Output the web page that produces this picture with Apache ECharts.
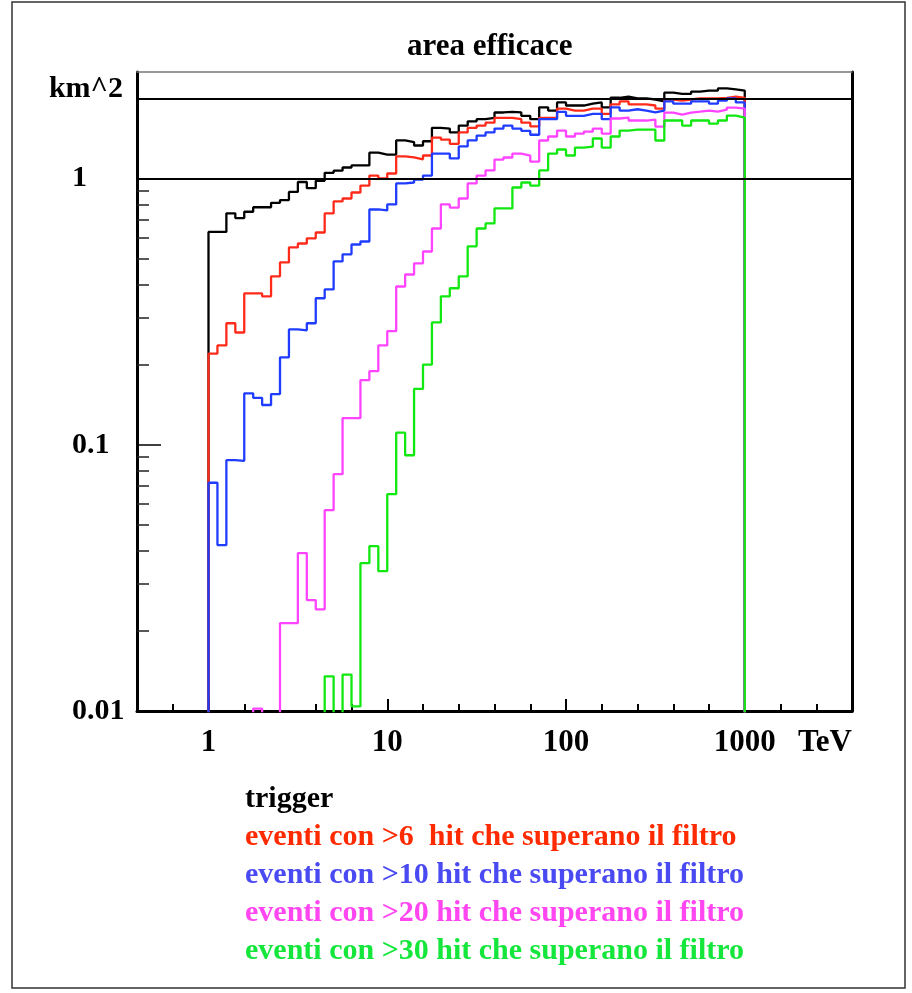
<!DOCTYPE html>
<html>
<head>
<meta charset="utf-8">
<title>area efficace</title>
<script src="https://cdn.jsdelivr.net/npm/echarts@6/dist/echarts.min.js"></script>
<style>
  html, body { margin: 0; padding: 0; background: #fff; }
  #chart { width: 912px; height: 993px; }
</style>
</head>
<body>
<div id="chart"></div>
<script>
// binning: 20 bins per decade from 1 TeV to 1000 TeV (x axis is log10 E)
var logEmin = 0;
var binWidth = 0.05;

var seriesNames = [
  'trigger',
  'eventi con >6  hit che superano il filtro',
  'eventi con >10 hit che superano il filtro',
  'eventi con >20 hit che superano il filtro',
  'eventi con >30 hit che superano il filtro'
];
var lineColors = ['#000000', '#ff2a1a', '#1f3cff', '#ff44ff', '#10e810'];
var textColors = ['#000000', '#ff2a00', '#4a4af2', '#ff46f0', '#14e63c'];

// area efficace (km^2) per bin, null = empty bin
var trigger = [0.63, 0.63, 0.74, 0.71, 0.75, 0.78, 0.78, 0.81, 0.83, 0.89,
  0.97, 0.92, 0.98, 1.05, 1.07, 1.10, 1.12, 1.12, 1.25, 1.23,
  1.23, 1.39, 1.37, 1.33, 1.38, 1.55, 1.54, 1.49, 1.58, 1.64,
  1.67, 1.69, 1.77, 1.78, 1.77, 1.72, 1.67, 1.85, 1.80, 1.93,
  1.88, 1.88, 1.91, 1.93, 1.85, 2.01, 2.03, 2.00, 2.00, 1.98,
  1.95, 2.10, 2.08, 2.08, 2.12, 2.14, 2.14, 2.18, 2.16, 2.14];
var filtro6 = [0.22, 0.236, 0.286, 0.264, 0.37, 0.37, 0.361, 0.429, 0.484, 0.551,
  0.570, 0.596, 0.627, 0.739, 0.820, 0.841, 0.886, 0.941, 1.026, 1.0,
  1.044, 1.21, 1.20, 1.18, 1.22, 1.425, 1.40, 1.35, 1.49, 1.55,
  1.58, 1.62, 1.69, 1.69, 1.67, 1.62, 1.57, 1.69, 1.69, 1.83,
  1.80, 1.80, 1.83, 1.83, 1.75, 1.90, 1.95, 1.90, 1.90, 1.88,
  1.83, 1.98, 1.96, 1.98, 2.00, 2.00, 2.00, 2.01, 2.03, 2.01];
var filtro10 = [0.072, 0.042, 0.0875, 0.087, 0.156, 0.150, 0.141, 0.155, 0.213, 0.271,
  0.269, 0.286, 0.355, 0.383, 0.488, 0.519, 0.565, 0.580, 0.765, 0.759,
  0.799, 0.958, 0.966, 0.991, 1.026, 1.24, 1.24, 1.19, 1.32, 1.39,
  1.45, 1.49, 1.54, 1.58, 1.54, 1.51, 1.46, 1.67, 1.67, 1.78,
  1.72, 1.72, 1.75, 1.75, 1.67, 1.85, 1.80, 1.82, 1.80, 1.77,
  1.80, 1.95, 1.91, 1.91, 1.95, 1.95, 1.91, 1.96, 2.00, 1.93];
var filtro20 = [null, null, null, null, null, 0.0102, null, null, 0.0214, 0.0214,
  0.0392, 0.0261, 0.0241, 0.0568, 0.0775, 0.126, 0.126, 0.175, 0.189, 0.236,
  0.267, 0.393, 0.436, 0.480, 0.532, 0.649, 0.799, 0.778, 0.841, 0.958,
  1.026, 1.072, 1.178, 1.199, 1.241, 1.220, 1.158, 1.389, 1.438, 1.514,
  1.438, 1.475, 1.501, 1.540, 1.475, 1.680, 1.694, 1.651, 1.651, 1.665,
  1.567, 1.769, 1.739, 1.769, 1.784, 1.800, 1.784, 1.815, 1.847, 1.831];
var filtro30 = [null, null, null, null, null, null, null, null, null, null,
  null, null, null, 0.0135, null, 0.0137, 0.0104, 0.0359, 0.0416, 0.0335,
  0.0652, 0.111, 0.0913, 0.162, 0.200, 0.288, 0.361, 0.387, 0.429, 0.556,
  0.649, 0.678, 0.772, 0.772, 0.925, 0.966, 0.941, 1.072, 1.241, 1.285,
  1.220, 1.307, 1.318, 1.413, 1.307, 1.438, 1.514, 1.527, 1.527, 1.527,
  1.389, 1.651, 1.651, 1.580, 1.651, 1.651, 1.608, 1.651, 1.723, 1.694];

var xTickValues = [1, 10, 100, 1000];
var xTickLabels = ['1', '10', '100', '1000'];
var yTickValues = [0.01, 0.1, 1];
var yTickLabels = ['0.01', '0.1', '1'];
var refLines = [1, 2];

var xMin = -0.4, xMax = 3.6;   // log10(TeV)
var yMin = -2, yMax = 0.4;     // log10(km^2)
var floorLog = -3;             // empty bins fall below the axis
var font = 'Liberation Serif';

// minor ticks: 5 per decade on x, 2..9 per decade on y
var xMinor = [];
for (var t = -2; t <= 17; t++) {
  if (t % 5 != 0) xMinor.push(t * 0.2);
}
var yMinor = [];
for (var d = -2; d <= 0; d++) {
  for (var k = 2; k <= 9; k++) {
    var lv = d + Math.log10(k);
    if (lv < yMax) yMinor.push(lv);
  }
}
var xMajor = xTickValues.map(function (v) { return Math.log10(v); });
var yMajor = yTickValues.map(function (v) { return Math.log10(v); });

function findLabel(vals, labels, v) {
  for (var i = 0; i < vals.length; i++) {
    if (Math.abs(Math.log10(vals[i]) - v) < 1e-6) return labels[i];
  }
  return '';
}

// histogram outline: horizontal across each bin, vertical at the edges
function stairs(values) {
  var pts = [[logEmin, floorLog]];
  values.forEach(function (v, i) {
    pts.push([logEmin + i * binWidth, v == null ? floorLog : Math.log10(v)]);
  });
  pts.push([logEmin + values.length * binWidth, floorLog]);
  return pts;
}

var allData = [trigger, filtro6, filtro10, filtro20, filtro30];

var mychart = echarts.init(document.getElementById('chart'));

var series = allData.map(function (vals, i) {
  return {
    name: seriesNames[i],
    type: 'line',
    step: 'end',
    symbol: 'none',
    color: lineColors[i],
    lineStyle: { width: 2.3, color: lineColors[i] },
    data: stairs(vals),
    clip: true
  };
});
series[0].markLine = {
  silent: true,
  symbol: 'none',
  label: { show: false },
  lineStyle: { color: '#000', width: 1.8, type: 'solid' },
  data: refLines.map(function (v) { return { yAxis: Math.log10(v) }; })
};

var option = {
  animation: false,
  backgroundColor: '#fff',
  title: {
    text: 'area efficace',
    left: 402,
    top: 26,
    textStyle: { fontFamily: font, fontWeight: 'bold', fontSize: 31, color: '#000' }
  },
  legend: {
    orient: 'vertical',
    left: 235,
    top: 779,
    icon: 'none',
    itemWidth: 0,
    itemHeight: 30,
    itemGap: 8,
    selectedMode: false,
    textStyle: { fontFamily: font, fontWeight: 'bold', fontSize: 30, lineHeight: 30 },
    data: seriesNames.map(function (n, i) {
      return { name: n, textStyle: { color: textColors[i] } };
    })
  },
  grid: { left: 137, right: 60, top: 72, bottom: 282, outerBoundsMode: 'none' },
  xAxis: [
    {
      type: 'value', position: 'bottom', min: xMin, max: xMax,
      axisLine: { show: true, onZero: false, lineStyle: { color: '#000', width: 3 } },
      axisTick: { show: true, inside: true, length: 12, customValues: xMajor, lineStyle: { color: '#000', width: 2 } },
      axisLabel: {
        show: true, margin: 16, customValues: xMajor,
        fontFamily: font, fontWeight: 'bold', fontSize: 31, color: '#000',
        formatter: function (v) { return findLabel(xTickValues, xTickLabels, v); }
      },
      splitLine: { show: false },
      name: 'TeV', nameLocation: 'end', nameGap: 0,
      nameTextStyle: { fontFamily: font, fontWeight: 'bold', fontSize: 31, color: '#000',
        align: 'right', verticalAlign: 'top', padding: [16, 0, 0, 0] }
    },
    {
      type: 'value', position: 'bottom', min: xMin, max: xMax,
      axisLine: { show: false, onZero: false },
      axisTick: { show: true, inside: true, length: 7, customValues: xMinor, lineStyle: { color: '#000', width: 2 } },
      axisLabel: { show: false },
      splitLine: { show: false }
    },
    {
      type: 'value', position: 'top', min: xMin, max: xMax,
      axisLine: { show: true, onZero: false, lineStyle: { color: '#777', width: 1.5 } },
      axisTick: { show: false }, axisLabel: { show: false }, splitLine: { show: false }
    }
  ],
  yAxis: [
    {
      type: 'value', position: 'left', min: yMin, max: yMax,
      axisLine: { show: true, onZero: false, lineStyle: { color: '#000', width: 3 } },
      axisTick: { show: true, inside: true, length: 24, customValues: yMajor, lineStyle: { color: '#000', width: 1.5 } },
      axisLabel: {
        show: true, margin: 65, align: 'left', customValues: yMajor,
        fontFamily: font, fontWeight: 'bold', fontSize: 30, color: '#000',
        formatter: function (v) { return findLabel(yTickValues, yTickLabels, v); }
      },
      splitLine: { show: false },
      name: 'km^2', nameLocation: 'end', nameGap: 0,
      nameTextStyle: { fontFamily: font, fontWeight: 'bold', fontSize: 30, color: '#000',
        align: 'right', verticalAlign: 'top', padding: [2, 14, 0, 0] }
    },
    {
      type: 'value', position: 'left', min: yMin, max: yMax,
      axisLine: { show: false, onZero: false },
      axisTick: { show: true, inside: true, length: 12, customValues: yMinor, lineStyle: { color: '#222', width: 1.5 } },
      axisLabel: { show: false },
      splitLine: { show: false }
    },
    {
      type: 'value', position: 'right', min: yMin, max: yMax,
      axisLine: { show: true, onZero: false, lineStyle: { color: '#000', width: 3 } },
      axisTick: { show: false }, axisLabel: { show: false }, splitLine: { show: false }
    }
  ],
  graphic: [{
    type: 'rect',
    shape: { x: 12, y: 2, width: 893, height: 986 },
    style: { fill: 'none', stroke: '#333', lineWidth: 1.5 },
    silent: true
  }],
  series: series
};

mychart.setOption(option);
</script>
</body>
</html>
